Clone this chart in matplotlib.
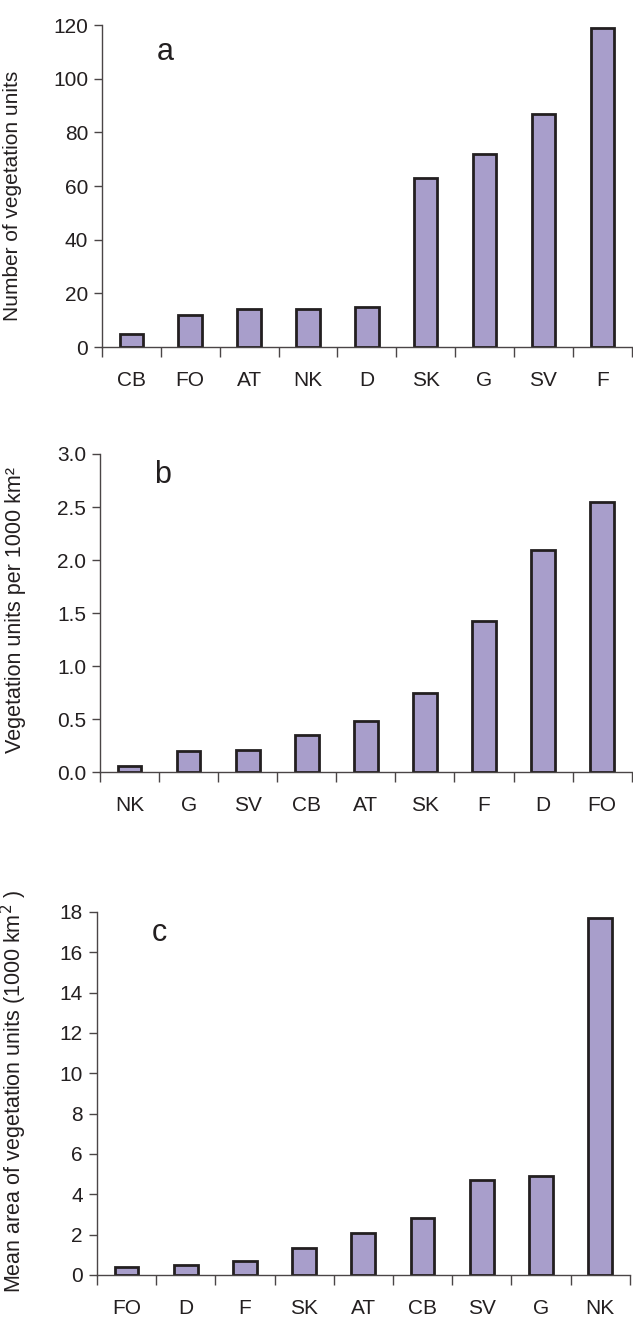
import matplotlib.pyplot as plt
import numpy as np

plt.rcParams['font.family'] = ['Liberation Sans', 'DejaVu Sans']

# panel a
cats_a = ['CB', 'FO', 'AT', 'NK', 'D', 'SK', 'G', 'SV', 'F']
vals_a = [5, 12, 14, 14, 15, 63, 72, 87, 119]
# panel b
cats_b = ['NK', 'G', 'SV', 'CB', 'AT', 'SK', 'F', 'D', 'FO']
vals_b = [0.06, 0.20, 0.21, 0.35, 0.48, 0.75, 1.42, 2.09, 2.55]
# panel c
cats_c = ['FO', 'D', 'F', 'SK', 'AT', 'CB', 'SV', 'G', 'NK']
vals_c = [0.40, 0.48, 0.68, 1.32, 2.06, 2.84, 4.72, 4.92, 17.72]

bar_col = '#a89ecb'
edge_col = '#231f20'
axis_col = '#4a4546'

fig = plt.figure(figsize=(6.33, 13.19), dpi=100)

panels = [
    (cats_a, vals_a, [0.161, 0.7369, 0.837, 0.2441], (0, 120), np.arange(0, 121, 20),
     '%d', 'Number of vegetation units', 15, (-0.151, 0.47), 'a', (0.119, 0.916)),
    (cats_b, vals_b, [0.158, 0.4147, 0.840, 0.2411], (0, 3.0), np.arange(0, 3.01, 0.5),
     '%.1f', 'Vegetation units per 1000 km²', 15.5, (-0.139, 0.509), 'b', (0.118, 0.934)),
    (cats_c, vals_c, [0.153, 0.0334, 0.842, 0.2752], (0, 18), np.arange(0, 19, 2),
     '%d', 'Mean area of vegetation units (1000 km$^2$ )', 15.5, (-0.127, 0.504), 'c', (0.118, 0.942)),
]

for cats, vals, pos, ylim, yticks, fmt, ylab, ylab_size, ylab_xy, letter, letter_xy in panels:
    ax = fig.add_axes(pos)
    x = np.arange(len(cats))
    ax.bar(x, vals, width=0.4, color=bar_col, edgecolor=edge_col, linewidth=2, zorder=3)
    ax.set_xlim(-0.5, len(cats) - 0.5)
    ax.set_ylim(*ylim)
    ax.set_yticks(yticks)
    ax.set_yticklabels([fmt % t for t in yticks], fontsize=15, color='#231f20')
    ax.set_xticks(x)
    ax.set_xticklabels(cats, fontsize=15, color='#231f20')
    ax.set_xticks(np.arange(-0.5, len(cats)), minor=True)
    ax.tick_params(axis='x', which='major', length=0, pad=17)
    ax.tick_params(axis='x', which='minor', length=7, direction='out', color=axis_col, width=1)
    ax.tick_params(axis='y', length=6, direction='out', color=axis_col, width=1, pad=4)
    for s in ['top', 'right']:
        ax.spines[s].set_visible(False)
    for s in ['left', 'bottom']:
        ax.spines[s].set_color(axis_col)
        ax.spines[s].set_linewidth(1)
    ax.spines['bottom'].set_zorder(4)
    ax.set_ylabel(ylab, fontsize=ylab_size, color='#231f20')
    ax.yaxis.set_label_coords(*ylab_xy)
    ax.text(letter_xy[0], letter_xy[1], letter, transform=ax.transAxes, fontsize=22,
            ha='center', va='center', color='#231f20')
    ax.patch.set_visible(False)

fig.savefig('out.png', dpi=100)
